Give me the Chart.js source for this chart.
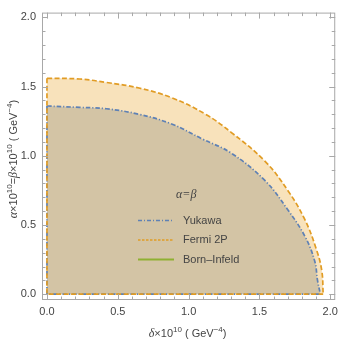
<!DOCTYPE html>
<html>
<head>
<meta charset="utf-8">
<script src="https://cdn.jsdelivr.net/npm/chart.js@4"></script>
<style>
  body { margin: 0; background: #fff; }
  #wrap { width: 343px; height: 343px; }
</style>
</head>
<body>
<div id="wrap"><canvas id="c" width="343" height="343"></canvas></div>
<script>
// valeurs (x = delta, y = alpha = beta), en unités de 1e-10 GeV^-4
// premier et dernier point : le coin (0,0), pour fermer le contour le long des axes
const yukawaDelta = [0, 0, 0.23, 0.42, 0.65, 0.88, 1.10, 1.30, 1.54, 1.70, 1.82, 1.89, 1.91, 1.93, 0];
const yukawaAlpha = [0, 1.36, 1.35, 1.34, 1.30, 1.23, 1.12, 1.02, 0.82, 0.61, 0.42, 0.24, 0.10, 0, 0];

const fermiDelta = [0, 0, 0.23, 0.42, 0.65, 0.88, 1.12, 1.30, 1.54, 1.70, 1.82, 1.90, 1.94, 1.95, 0];
const fermiAlpha = [0, 1.56, 1.555, 1.53, 1.49, 1.42, 1.30, 1.17, 0.96, 0.75, 0.54, 0.33, 0.17, 0, 0];

const seriesNames = ['Yukawa', 'Fermi 2P', 'Born\u2013Infeld'];
const legendTitle = '\u03b1=\u03b2';

const tickValues = [0, 0.5, 1.0, 1.5, 2.0];
const tickLabels = ['0.0', '0.5', '1.0', '1.5', '2.0'];

const BLUE = '#5e81b5', ORANGE = '#e19c24', GREEN = '#8fb032';
const FONT = '"Liberation Sans", Arial, sans-serif';
const TXT = '#444';

function pts(xs, ys) {
    return xs.map((x, i) => ({ x: x, y: ys[i] }));
}
// la courbe seule (sans le coin)
const curve = (xs, ys) => pts(xs.slice(1, -1), ys.slice(1, -1));
// les deux bords le long des axes : haut de la courbe -> coin -> bout de la courbe
const edges = (xs, ys) => {
    const n = xs.length;
    return [{ x: xs[1], y: ys[1] }, { x: xs[0], y: ys[0] }, { x: xs[n - 2], y: ys[n - 2] }];
};

// texte avec exposants et italiques
function richText(ctx, runs, cx, cy, angle) {
    const fontOf = r => (r.i ? 'italic ' : '') + (r.sup ? '8px ' : (r.i ? '12px ' : '11px ')) + (r.i ? '"Liberation Serif", serif' : FONT);
    ctx.save();
    ctx.translate(cx, cy);
    ctx.rotate(angle);
    let w = 0;
    runs.forEach(r => {
        ctx.font = fontOf(r);
        r.w = ctx.measureText(r.t).width;
        w += r.w;
    });
    let x = -w / 2;
    ctx.fillStyle = TXT;
    ctx.textBaseline = 'middle';
    runs.forEach(r => {
        ctx.font = fontOf(r);
        ctx.fillText(r.t, x, r.sup ? -4 : 0);
        x += r.w;
    });
    ctx.restore();
}

const framePlugin = {
    id: 'frame',
    afterDraw(chart) {
        const ctx = chart.ctx, a = chart.chartArea;
        const xs = chart.scales.x, ys = chart.scales.y;
        ctx.save();
        ctx.strokeStyle = '#a8a8a8';
        ctx.lineWidth = 1;
        ctx.strokeRect(a.left + 0.5, a.top + 0.5, a.right - a.left - 1, a.bottom - a.top - 1);
        ctx.beginPath();
        for (let k = 0; k <= 20; k++) {
            const v = k / 10;
            const len = (k % 5 === 0) ? 6 : 3.5;
            const px = Math.round(xs.getPixelForValue(v)) + 0.5;
            ctx.moveTo(px, a.bottom); ctx.lineTo(px, a.bottom - len);
            ctx.moveTo(px, a.top); ctx.lineTo(px, a.top + len);
            const py = Math.round(ys.getPixelForValue(v)) + 0.5;
            ctx.moveTo(a.left, py); ctx.lineTo(a.left + len, py);
            ctx.moveTo(a.right, py); ctx.lineTo(a.right - len, py);
        }
        ctx.stroke();
        ctx.restore();

        // titres des axes
        richText(ctx, [
            { t: '\u03b4', i: true }, { t: '\u00d710' }, { t: '10', sup: true },
            { t: ' ( GeV' }, { t: '\u22124', sup: true }, { t: ')' }
        ], (a.left + a.right) / 2 - 1, 334, 0);
        richText(ctx, [
            { t: '\u03b1', i: true }, { t: '\u00d710' }, { t: '10', sup: true }, { t: '=' },
            { t: '\u03b2', i: true }, { t: '\u00d710' }, { t: '10', sup: true },
            { t: ' ( GeV' }, { t: '\u22124', sup: true }, { t: ')' }
        ], 14, 159, -Math.PI / 2);

        // légende
        ctx.save();
        ctx.fillStyle = TXT;
        ctx.textBaseline = 'middle';
        ctx.font = 'italic 12px "Liberation Serif", serif';
        ctx.fillText(legendTitle, 176, 195);
        const styles = [
            { c: BLUE, d: [4, 2, 1, 2], w: 1.6 },
            { c: ORANGE, d: [2.5, 1.5], w: 1.6 },
            { c: GREEN, d: [], w: 2 }
        ];
        const rows = [220.5, 240, 259.5];
        seriesNames.forEach((name, i) => {
            ctx.beginPath();
            ctx.strokeStyle = styles[i].c;
            ctx.lineWidth = styles[i].w;
            ctx.setLineDash(styles[i].d);
            ctx.moveTo(138, rows[i]); ctx.lineTo(174, rows[i]);
            ctx.stroke();
            ctx.setLineDash([]);
            ctx.font = '11px ' + FONT;
            ctx.fillStyle = TXT;
            ctx.fillText(name, 183, rows[i]);
        });
        ctx.restore();
    }
};

new Chart(document.getElementById('c'), {
    type: 'line',
    data: {
        datasets: [
            {
                label: 'Fermi 2P (bords)',
                data: edges(fermiDelta, fermiAlpha),
                borderColor: ORANGE,
                borderWidth: 1.7,
                borderDash: [5, 2.5],
                pointRadius: 0,
                tension: 0,
                fill: false
            },
            {
                label: 'Yukawa (bords)',
                data: edges(yukawaDelta, yukawaAlpha),
                borderColor: BLUE,
                borderWidth: 1.7,
                borderDash: [4.5, 2, 1.2, 2],
                pointRadius: 0,
                tension: 0,
                fill: false
            },
            {
                label: seriesNames[0],
                data: curve(yukawaDelta, yukawaAlpha),
                borderColor: BLUE,
                borderWidth: 1.7,
                borderDash: [4.5, 2, 1.2, 2],
                backgroundColor: '#d3c4a5',
                pointRadius: 0,
                tension: 0.4,
                fill: 'origin'
            },
            {
                label: seriesNames[1],
                data: curve(fermiDelta, fermiAlpha),
                borderColor: ORANGE,
                borderWidth: 1.7,
                borderDash: [5, 2.5],
                backgroundColor: '#f8e2bb',
                pointRadius: 0,
                tension: 0.4,
                fill: 'origin'
            }
        ]
    },
    options: {
        responsive: false,
        animation: false,
        parsing: false,
        layout: { padding: { top: 2, right: 5, left: 0, bottom: 0 } },
        plugins: { legend: { display: false }, tooltip: { enabled: false } },
        scales: {
            x: {
                type: 'linear',
                min: -0.035, max: 2.035,
                afterBuildTicks: s => { s.ticks = tickValues.map(v => ({ value: v })); },
                afterFit: s => { s.height = 43; },
                grid: { display: false, drawTicks: false },
                border: { display: false },
                ticks: {
                    padding: 5,
                    color: TXT,
                    font: { family: FONT, size: 11 },
                    callback: (v) => tickLabels[tickValues.indexOf(v)]
                }
            },
            y: {
                type: 'linear',
                min: -0.042, max: 2.035,
                afterBuildTicks: s => { s.ticks = tickValues.map(v => ({ value: v })); },
                afterFit: s => { s.width = 42; },
                grid: { display: false, drawTicks: false },
                border: { display: false },
                ticks: {
                    padding: 6,
                    color: TXT,
                    font: { family: FONT, size: 11 },
                    callback: (v) => tickLabels[tickValues.indexOf(v)]
                }
            }
        }
    },
    plugins: [framePlugin]
});
</script>
</body>
</html>
